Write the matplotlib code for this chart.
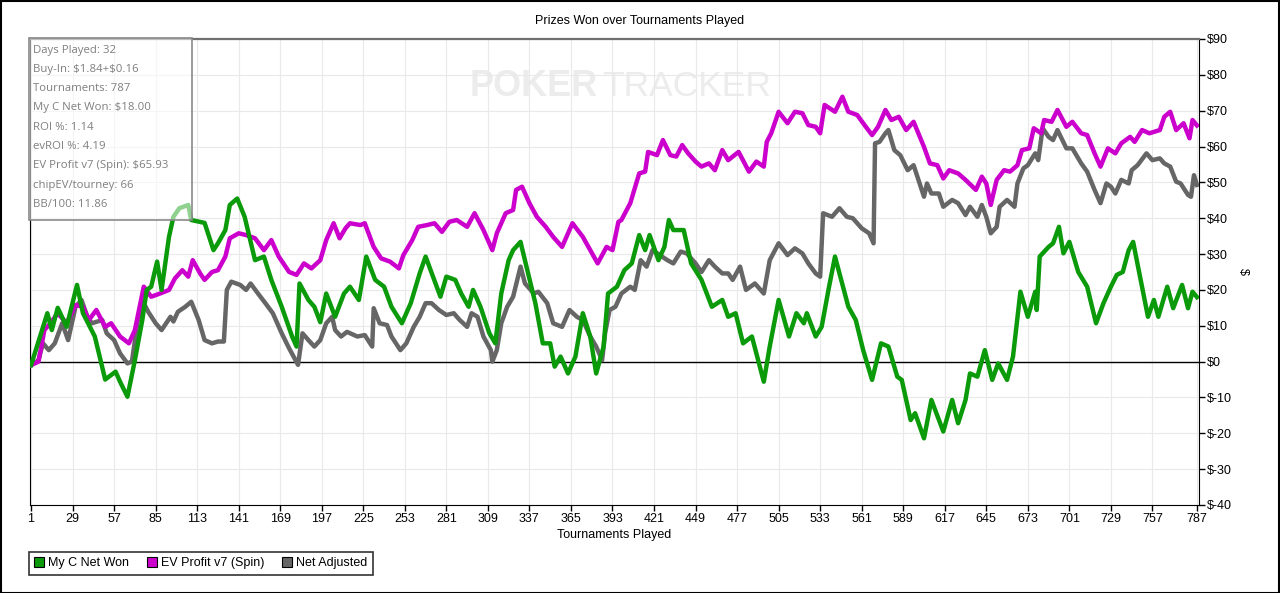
# PokerTracker style chart: prizes won over tournaments played
import matplotlib
matplotlib.use("Agg")
import matplotlib.pyplot as plt
from matplotlib.lines import Line2D
from matplotlib.patches import Rectangle

plt.rcParams['font.family'] = ['Liberation Sans', 'DejaVu Sans']
plt.rcParams['text.parse_math'] = False

# --- data ---
won_t = [1, 7, 12, 15, 19, 25, 32, 36, 44, 51, 58, 61, 66, 71, 76, 79, 82, 86, 89, 94, 97, 101, 107, 109,
         118, 124, 127, 132, 135, 140, 145, 152, 158, 163, 170, 177, 180, 182, 188, 192, 196, 200, 206, 212,
         216, 222, 227, 233, 239, 244, 251, 257, 263, 267, 272, 277, 281, 287, 291, 296, 299, 304, 310, 314,
         318, 323, 326, 331, 335, 341, 346, 351, 354, 358, 363, 368, 373, 378, 382, 387, 390, 396, 401, 406,
         411, 415, 418, 424, 428, 431, 434, 441, 446, 453, 460, 467, 471, 476, 481, 487, 495, 499, 505, 512,
         517, 522, 524, 530, 534, 539, 543, 552, 557, 562, 568, 574, 579, 585, 588, 594, 597, 603, 608, 616,
         622, 626, 631, 634, 639, 644, 649, 653, 659, 663, 668, 673, 678, 679, 681, 687, 690, 694, 697, 701,
         707, 713, 719, 724, 729, 733, 737, 741, 744, 754, 758, 761, 767, 771, 777, 781, 784, 787]
won_v = [-1, 6.9, 13.5, 8.8, 15, 9.7, 21.4, 13.5, 7, -5, -2.8, -5.6, -9.8, 0.4, 11.6, 20, 20.9, 27.9, 20,
         34.8, 40.4, 42.8, 43.7, 39.5, 38.7, 31.1, 33, 36.7, 43.7, 45.5, 40.4, 28.3, 29.3, 22.8, 15.3, 7, 4.2,
         21.8, 17.2, 15.3, 11, 19, 12.5, 19, 20.9, 17.2, 29.3, 22.8, 20.9, 15.3, 10.7, 16.3, 24.6, 29.3, 23.7,
         18.1, 23.7, 22.8, 19, 15.3, 20, 15.3, 7.9, 5.1, 19, 28.3, 31.1, 33.4, 26.5, 16.3, 5.1, 5.1, -1.4, 1.4,
         -3.3, 1.4, 13.5, 7, -3.3, 4.2, 19, 20.9, 25.5, 27.4, 35.3, 31.1, 35.3, 28.3, 32, 39.5, 36.7, 36.7,
         27.4, 22.8, 15.3, 17.2, 12.5, 13.5, 5.1, 7, -5.6, 4.2, 17.2, 7, 13.5, 10.7, 13.5, 7, 9.7, 20.9,
         29.3, 15.3, 11.6, 3.2, -5.1, 5.1, 4.2, -4.2, -5.1, -16.3, -14.4, -21.4, -10.7, -19.5, -10.7, -17.2,
         -10.7, -3.3, -4.2, 3.2, -5.1, -0.5, -5.1, 1.4, 19.5, 12.5, 19.5, 14.4, 29.3, 32, 33, 37.6, 30.2,
         33.4, 25, 20.9, 10.7, 16.3, 20.9, 24.2, 25, 31.1, 33.4, 12.5, 17.2, 12.5, 20.9, 14.9, 21.4, 14.9,
         19.5, 18]

ev_t = [1, 6, 10, 14, 19, 25, 31, 36, 40, 45, 51, 55, 61, 67, 71, 77, 82, 88, 94, 98, 103, 107, 110, 115,
        118, 123, 127, 132, 135, 141, 146, 152, 158, 163, 168, 175, 180, 185, 190, 196, 200, 205, 209, 213,
        216, 223, 226, 232, 237, 243, 249, 252, 258, 262, 268, 273, 278, 283, 288, 295, 300, 306, 312, 315,
        321, 326, 328, 332, 337, 342, 348, 353, 359, 366, 373, 378, 383, 389, 393, 397, 399, 405, 411, 415,
        417, 423, 427, 432, 436, 440, 444, 449, 453, 458, 462, 467, 471, 478, 485, 490, 495, 497, 500, 505,
        511, 516, 521, 525, 530, 533, 536, 543, 548, 552, 558, 562, 568, 572, 577, 581, 586, 591, 596, 603,
        607, 612, 616, 620, 626, 631, 638, 642, 645, 648, 652, 657, 661, 666, 669, 674, 677, 682, 684, 689,
        693, 699, 703, 709, 713, 718, 722, 727, 732, 736, 742, 745, 750, 755, 762, 765, 769, 773, 778, 782,
        784, 787]
ev_v = [-1, 0, 8.8, 10.7, 13.5, 10.7, 15.8, 15.3, 11.6, 14.4, 9.7, 10.7, 7, 5.1, 8.8, 20.9, 18.1, 19, 20,
        23.2, 25.5, 23.7, 28.3, 24.6, 22.8, 25, 25.5, 29.3, 34.4, 35.8, 35.3, 34.4, 31.1, 33.9, 29.3, 25,
        24.2, 27.4, 26, 28.3, 33.9, 38.6, 34.4, 37.2, 38.6, 38.1, 38.6, 32, 28.8, 27.9, 26, 29.7, 33.9, 37.6,
        38.1, 38.6, 36.2, 39, 39.5, 37.6, 41.4, 36.7, 31.1, 35.8, 41.4, 42.3, 47.9, 48.8, 44.2, 40.4, 37.6,
        34.8, 32, 38.6, 34.8, 31.1, 27.4, 32, 31.1, 39, 39.5, 44.2, 52.5, 53, 58.5, 57.6, 61.8, 57.6, 57.2,
        60.4, 58.1, 55.8, 54.4, 55.3, 53.4, 59, 56.2, 58.5, 53, 55.8, 54.4, 61.3, 63.7, 69.7, 66.5, 69.7,
        69.3, 66, 65.5, 63.7, 71.6, 69.7, 73.9, 69.7, 68.8, 66.5, 63.2, 65.5, 70.2, 67.4, 68.3, 64.6, 66.9,
        59.9, 55.3, 54.8, 51.1, 53.4, 52.5, 50.7, 47.9, 51.6, 49.7, 43.7, 50.7, 53.4, 53, 54.8, 59, 59.5,
        65.1, 63.7, 67.4, 66.9, 70.2, 65.5, 66.9, 63.7, 63.2, 58.1, 54.4, 59.5, 58.1, 60.9, 62.7, 61.3,
        64.6, 63.7, 64.6, 68.3, 69.7, 64.6, 66.5, 62.3, 67.4, 65.9]

adj_t = [1, 6, 9, 13, 17, 22, 26, 31, 35, 39, 42, 49, 52, 57, 61, 66, 69, 73, 77, 80, 85, 89, 95, 97, 100,
         105, 109, 114, 118, 123, 127, 131, 133, 136, 142, 146, 149, 154, 159, 164, 170, 175, 178, 181, 184,
         188, 192, 196, 200, 204, 206, 210, 214, 221, 226, 231, 232, 236, 241, 244, 250, 254, 259, 263, 267,
         271, 276, 281, 286, 290, 295, 298, 302, 306, 311, 312, 315, 318, 322, 326, 331, 334, 340, 343, 349,
         353, 359, 364, 369, 373, 378, 382, 386, 388, 391, 395, 399, 405, 408, 412, 416, 420, 425, 430, 434,
         439, 443, 449, 453, 458, 462, 467, 471, 474, 479, 483, 489, 495, 499, 505, 511, 516, 521, 525, 530,
         533, 535, 541, 546, 551, 555, 561, 566, 569, 570, 573, 577, 579, 583, 587, 592, 596, 603, 605, 608,
         613, 616, 622, 626, 631, 634, 639, 642, 645, 648, 652, 654, 659, 664, 666, 670, 673, 678, 680, 683,
         687, 690, 693, 699, 703, 709, 713, 718, 722, 726, 729, 732, 736, 741, 743, 747, 753, 757, 762, 765,
         769, 773, 776, 781, 783, 785, 787]
adj_v = [-1, 0.4, 5.1, 3.2, 5.1, 10.7, 6, 15.3, 17.2, 12.5, 10.7, 11.6, 7.9, 6, 2.3, -0.5, 0, 11.6, 16.3,
         13.9, 10.7, 8.8, 12.5, 11.2, 13.9, 15.3, 16.7, 11.6, 6, 5.1, 5.6, 5.6, 20, 22.3, 21.4, 20, 21.8, 19,
         16.3, 13.5, 7.9, 3.7, 1.4, -0.9, 7.9, 6, 4.2, 6, 10.7, 12.5, 8.8, 7, 8.3, 7, 7.4, 4.2, 14.9, 10.7,
         10.2, 7, 3.2, 5.1, 9.7, 12.5, 16.3, 16.3, 14.4, 13, 13.5, 11.6, 9.7, 13.5, 12.5, 7, 3.2, 0, 3.2,
         10.7, 15.3, 18.1, 26.5, 21.8, 19, 19.5, 16.3, 10.7, 9.7, 14.4, 12.5, 11.6, 7, 4.2, 0.4, 7.9, 14.4,
         15.3, 19, 20.9, 20, 28.3, 26.5, 31.1, 29.7, 28.3, 27.4, 30.7, 30.2, 27.4, 25, 28.3, 26.5, 24.6,
         24.6, 22.8, 26.5, 20, 21.8, 19, 28.3, 33, 29.7, 31.6, 30.2, 27.4, 24.6, 23.7, 41.4, 40.4, 42.8,
         40.4, 40, 37.2, 35.8, 33, 60.9, 61.3, 63.7, 64.6, 59, 57.6, 53.4, 54.8, 46, 49.7, 46.9, 46.9, 43.2,
         45.1, 44.2, 40.9, 43.2, 40.4, 43.7, 40.4, 35.8, 37.6, 43.2, 45.1, 43.2, 49.7, 53.9, 54.8, 58.1,
         56.2, 65.1, 62.7, 61.8, 64.6, 59.5, 59.5, 55.3, 53, 47.9, 44.2, 49.7, 48.8, 46.9, 50.7, 49.7, 53.4,
         54.8, 58.1, 56.2, 56.7, 55.3, 54.4, 50.2, 49.7, 46.5, 46, 52, 49.3]

series_names = ["My C Net Won", "EV Profit v7 (Spin)", "Net Adjusted"]
series_colors = ["#0a9a0a", "#cc00cc", "#666666"]

stats_lines = ["Days Played: 32", "Buy-In: $1.84+$0.16", "Tournaments: 787", "My C Net Won: $18.00",
               "ROI %: 1.14", "evROI %: 4.19", "EV Profit v7 (Spin): $65.93", "chipEV/tourney: 66",
               "BB/100: 11.86"]

x_ticks = [1, 29, 57, 85, 113, 141, 169, 197, 225, 253, 281, 309, 337, 365, 393, 421, 449, 477, 505,
           533, 561, 589, 617, 645, 673, 701, 729, 757, 787]
y_ticks = [-40, -30, -20, -10, 0, 10, 20, 30, 40, 50, 60, 70, 80, 90]

# --- figure ---
W, H = 1280, 593
fig = plt.figure(figsize=(W / 100, H / 100), dpi=100)
ax = fig.add_axes([30 / W, 1 - 505 / H, (1199 - 30) / W, (505 - 39) / H])

# watermark
ax.text(470 / W, 1 - 87 / H, "POKER", transform=fig.transFigure, fontsize=26, fontweight='bold',
        color='#ececec', ha='left', va='center', zorder=0.5)
ax.text(602 / W, 1 - 87 / H, "TRACKER", transform=fig.transFigure, fontsize=25.5,
        color='#ececec', ha='left', va='center', zorder=0.5)

ax.plot(adj_t, adj_v, color=series_colors[2], lw=3.2, zorder=3)
ax.plot(ev_t, ev_v, color=series_colors[1], lw=3.2, zorder=4)
ax.plot(won_t, won_v, color=series_colors[0], lw=3.2, zorder=5)
ax.axhline(0, color='black', lw=1, zorder=2)

ax.set_xlim(0.3, 788.4)
ax.set_ylim(-40, 90)
ax.set_xticks(x_ticks)
ax.set_yticks(y_ticks)
ax.set_yticklabels(["$" + str(v) for v in y_ticks])
ax.yaxis.tick_right()
ax.tick_params(axis='both', direction='out', length=4, width=1, labelsize=9, colors='black', pad=2)
ax.grid(True, color='#e9e9e9', lw=0.8, zorder=1)
ax.set_axisbelow(True)
for s in ['left', 'bottom', 'right']:
    ax.spines[s].set_color('black')
ax.spines['top'].set_color('#707070')
ax.spines['top'].set_linewidth(1.6)

fig.text(640 / W, 1 - 21 / H, "Prizes Won over Tournaments Played", fontsize=9, ha='center', va='center')
fig.text(614 / W, 1 - 535 / H, "Tournaments Played", fontsize=9, ha='center', va='center')
fig.text(1243 / W, 1 - 272 / H, "$", fontsize=9, rotation=-90, ha='center', va='center')

# stats box
fig.patches.append(Rectangle((29 / W, 1 - 220 / H), 163 / W, 182 / H, transform=fig.transFigure,
                             facecolor='white', alpha=0.55, edgecolor='none', zorder=6))
fig.patches.append(Rectangle((29 / W, 1 - 220 / H), 163 / W, 182 / H, transform=fig.transFigure,
                             facecolor='none', edgecolor='#8a8a8a', lw=1.2, zorder=7))
for i, line in enumerate(stats_lines):
    fig.text(33 / W, 1 - (50 + 19.3 * i) / H, line, fontsize=8.2, color='#7f7f7f',
             family=['Open Sans', 'DejaVu Sans'], ha='left', va='center', zorder=8)

# legend
handles = [Line2D([], [], ls='none', marker='s', markersize=7, markerfacecolor=c,
                  markeredgecolor='black', markeredgewidth=0.8) for c in series_colors]
leg = fig.legend(handles, series_names, loc='lower left', bbox_to_anchor=(29 / W, 1 - 575 / H),
                 ncol=3, fontsize=9, frameon=True, fancybox=False, edgecolor='black',
                 handlelength=0.7, handletextpad=0.35, columnspacing=1.5, borderpad=0.45,
                 borderaxespad=0)
leg.get_frame().set_linewidth(1.2)

# outer border
fig.patches.append(Rectangle((0.5 / W, 0.5 / H), 1 - 1.5 / W, 1 - 1.5 / H, transform=fig.transFigure,
                             facecolor='none', edgecolor='black', lw=1.5, zorder=10))

fig.savefig("out.png", dpi=100)
